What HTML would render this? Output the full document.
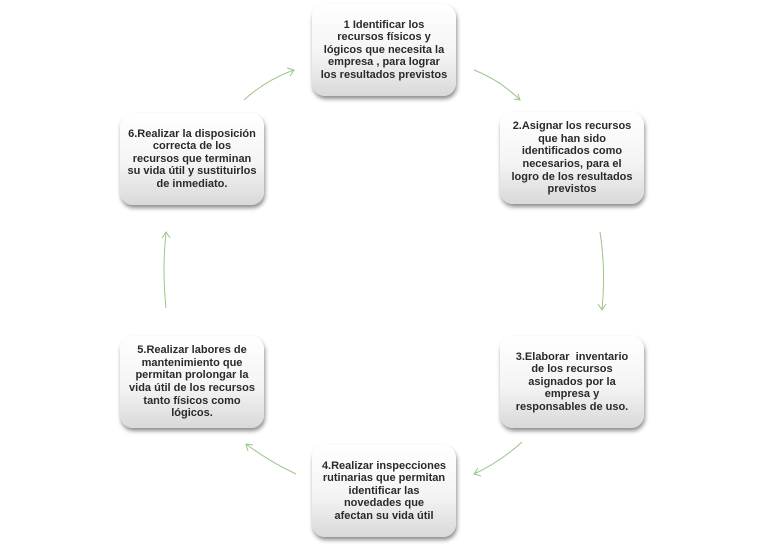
<!DOCTYPE html>
<html><head><meta charset="utf-8"><style>
html,body{margin:0;padding:0;background:#fff;}
body{width:768px;height:545px;position:relative;overflow:hidden;font-family:"Liberation Sans","DejaVu Sans",sans-serif;}
.b{position:absolute;width:144px;height:92px;border-radius:13px;background:linear-gradient(#ffffff 0%,#f4f4f4 55%,#d9d9d9 100%);box-shadow:1px 3px 4px rgba(0,0,0,0.45);display:flex;align-items:center;justify-content:center;text-align:center;font-weight:bold;font-size:11px;line-height:12.6px;color:#2a2a2a;box-sizing:border-box;padding:0 2px;white-space:nowrap;}
svg{position:absolute;left:0;top:0;}
</style></head><body>
<svg width="768" height="545"><g fill="none" stroke="#9cc48a" stroke-width="1">
<path d="M474 70 Q500 80 520 100"/><path d="M514 99 L520 100 L518 94"/>
<path d="M600 232 Q606 270 602 310"/><path d="M598 304 L602 310 L606 304"/>
<path d="M522 442 Q500 462 474 474"/><path d="M478 468 L474 474 L481 476"/>
<path d="M296 474 Q270 462 246 444"/><path d="M248 451 L246 444 L253 445"/>
<path d="M166 308 Q162 270 166 232"/><path d="M162 238 L166 232 L170 238"/>
<path d="M244 100 Q266 80 294 70"/><path d="M287 68 L294 70 L290 76"/>
</g></svg>
<div class="b" style="left:312px;top:4px">1 Identificar los<br>recursos físicos y<br>lógicos que necesita la<br>empresa , para lograr<br>los resultados previstos</div>
<div class="b" style="left:500px;top:112px">2.Asignar los recursos<br>que han sido<br>identificados como<br>necesarios, para el<br>logro de los resultados<br>previstos</div>
<div class="b" style="left:500px;top:336px">3.Elaborar &nbsp;inventario<br>de los recursos<br>asignados por la<br>empresa y<br>responsables de uso.</div>
<div class="b" style="left:312px;top:445px">4.Realizar inspecciones<br>rutinarias que permitan<br>identificar las<br>novedades que<br>afectan su vida útil</div>
<div class="b" style="left:120px;top:336px">5.Realizar labores de<br>mantenimiento que<br>permitan prolongar la<br>vida útil de los recursos<br>tanto físicos como<br>lógicos.</div>
<div class="b" style="left:120px;top:113px">6.Realizar la disposición<br>correcta de los<br>recursos que terminan<br>su vida útil y sustituirlos<br>de inmediato.</div>
</body></html>
